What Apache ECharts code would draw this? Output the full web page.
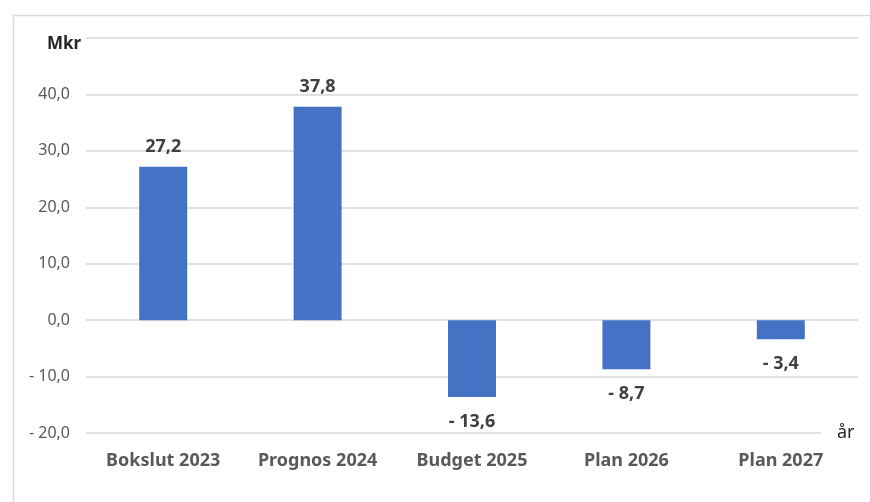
<!DOCTYPE html>
<html>
<head>
<meta charset="utf-8">
<script src="https://cdn.jsdelivr.net/npm/echarts@6/dist/echarts.min.js"></script>
<style>html,body{margin:0;padding:0;background:#fff}#c{width:870px;height:502px}</style>
</head>
<body>
<div id="c"></div>
<script>
const categories = ['Bokslut 2023', 'Prognos 2024', 'Budget 2025', 'Plan 2026', 'Plan 2027'];
const values = [27.2, 37.8, -13.6, -8.7, -3.4];
const yTicks = [-20, -10, 0, 10, 20, 30, 40, 50];

function fmt(v) {
  const s = Math.abs(v).toFixed(1).replace('.', ',');
  return v < 0 ? '- ' + s : s;
}
const FONT = 'Noto Sans';
const chart = echarts.init(document.getElementById('c'));
chart.setOption({
  animation: false,
  graphic: [{
    type: 'rect', left: 11, top: 13,
    shape: { width: 900, height: 520 },
    style: { fill: 'none', stroke: '#d9d9d9', lineWidth: 1.5 },
    silent: true
  }],
  title: {
    text: 'Mkr', left: 42, top: 31,
    textStyle: { fontFamily: FONT, fontSize: 17, fontWeight: 'bold', color: '#262626' }
  },
  grid: { left: 86, right: 12, top: 38, bottom: 69 },
  xAxis: {
    type: 'category', data: categories,
    position: 'bottom',
    axisLine: { show: false, onZero: false },
    axisTick: { show: false },
    axisLabel: { interval: 0, fontFamily: FONT, fontSize: 18, fontWeight: 'bold', color: '#595959', margin: 19 },
    name: 'år', nameLocation: 'end', nameGap: -37,
    nameTextStyle: { fontFamily: FONT, fontSize: 18, color: '#262626', backgroundColor: '#fff', padding: [8, 3, 0, 16], verticalAlign: 'middle' }
  },
  yAxis: {
    type: 'value', min: yTicks[0], max: yTicks[yTicks.length - 1], interval: 10,
    axisLine: { show: false }, axisTick: { show: false },
    splitLine: { lineStyle: { color: '#d9d9d9', width: 1.5 } },
    axisLabel: {
      fontFamily: FONT, fontSize: 16, color: '#595959', margin: 16,
      formatter: v => (v === 50 ? '' : fmt(v))
    }
  },
  series: [{
    type: 'bar', barWidth: 48,
    itemStyle: { color: '#4472c4' },
    data: values.map(v => ({
      value: v,
      label: {
        show: true, position: v < 0 ? 'bottom' : 'top', distance: v < 0 ? 16 : 11,
        formatter: p => fmt(p.value),
        fontFamily: FONT, fontSize: 18, fontWeight: 'bold', color: '#404040'
      }
    }))
  }]
});
</script>
</body>
</html>
